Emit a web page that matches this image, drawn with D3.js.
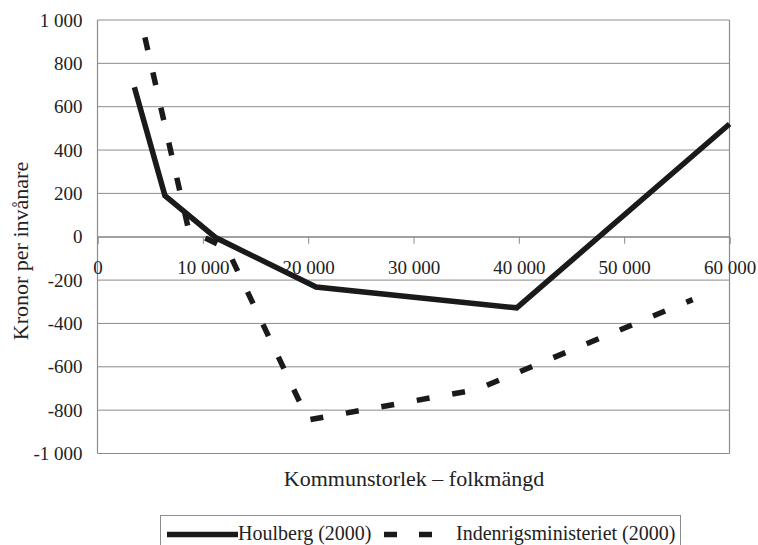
<!DOCTYPE html>
<html>
<head>
<meta charset="utf-8">
<script src="https://cdn.jsdelivr.net/npm/d3@7"></script>
<style>
  html, body { margin: 0; padding: 0; background: #fff; }
  svg { display: block; }
  text { font-family: "Liberation Serif", "Times New Roman", serif; fill: #222; }
</style>
</head>
<body>
<svg id="chart" width="758" height="545"></svg>
<script>
// Kommunstorlek (folkmängd) and kronor per invånare for each source
const houlbergX = [3500, 6400, 11250, 20750, 39800, 60000];
const houlbergY = [690, 190, -5, -232, -328, 520];
const inrikesX = [4500, 8650, 12300, 20000, 36000, 56500];
const inrikesY = [920, 32, -55, -845, -705, -290];

const seriesNames = ["Houlberg (2000)", "Indenrigsministeriet (2000)"];
const xTickValues = [0, 10000, 20000, 30000, 40000, 50000, 60000];
const yTickValues = [-1000, -800, -600, -400, -200, 0, 200, 400, 600, 800, 1000];
const xTitle = "Kommunstorlek – folkmängd";
const yTitle = "Kronor per invånare";

const svg = d3.select("#chart");
const plot = { left: 97.5, right: 729.5, top: 20, bottom: 453.5 };

const x = d3.scaleLinear().domain([0, 60000]).range([plot.left, plot.right]);
const y = d3.scaleLinear().domain([-1000, 1000]).range([plot.bottom, plot.top]);

const sv = d3.formatLocale({ decimal: ",", thousands: "\u00a0", grouping: [3], currency: ["", ""], minus: "-" });
const fmt = sv.format(",d");

const gridColor = "#8c8c8c";

// horizontal gridlines
svg.append("g")
  .selectAll("line")
  .data(yTickValues)
  .join("line")
  .attr("x1", plot.left).attr("x2", plot.right)
  .attr("y1", d => y(d)).attr("y2", d => y(d))
  .attr("stroke", gridColor).attr("stroke-width", 1);

// left axis line and right frame edge
svg.append("line")
  .attr("x1", plot.left).attr("x2", plot.left)
  .attr("y1", plot.top).attr("y2", plot.bottom)
  .attr("stroke", gridColor).attr("stroke-width", 1.2);
svg.append("line")
  .attr("x1", plot.right).attr("x2", plot.right)
  .attr("y1", plot.top).attr("y2", plot.bottom)
  .attr("stroke", gridColor).attr("stroke-width", 1.2);

// y axis labels
const yAxis = d3.axisLeft(y).tickValues(yTickValues).tickFormat(fmt).tickSize(0).tickPadding(15);
const gy = svg.append("g").attr("transform", `translate(${plot.left},0)`).call(yAxis);
gy.select(".domain").remove();
gy.selectAll("text")
  .style("font-family", '"Liberation Serif", serif')
  .style("font-size", "19px")
  .attr("fill", "#222");

// x axis crossing at zero
const xAxis = d3.axisBottom(x).tickValues(xTickValues).tickFormat(fmt).tickSize(7).tickPadding(17);
const gx = svg.append("g").attr("transform", `translate(0,${y(0)})`).call(xAxis);
gx.select(".domain").attr("stroke", gridColor);
gx.selectAll(".tick line").attr("stroke", gridColor);
gx.selectAll("text")
  .style("font-family", '"Liberation Serif", serif')
  .style("font-size", "19px")
  .attr("fill", "#222")
  .attr("dy", "0.32em")
  .attr("y", 31);

const line = d3.line().x(d => x(d[0])).y(d => y(d[1]));

const inrikes = inrikesX.map((v, i) => [v, inrikesY[i]]);
const houlberg = houlbergX.map((v, i) => [v, houlbergY[i]]);

svg.append("path")
  .datum(inrikes)
  .attr("d", line)
  .attr("fill", "none")
  .attr("stroke", "#1a1a1a")
  .attr("stroke-width", 5.5)
  .attr("stroke-dasharray", "13 23")
  .attr("stroke-linejoin", "miter");

svg.append("path")
  .datum(houlberg)
  .attr("d", line)
  .attr("fill", "none")
  .attr("stroke", "#1a1a1a")
  .attr("stroke-width", 5.5)
  .attr("stroke-linejoin", "miter");

// axis titles
svg.append("text")
  .attr("x", 414).attr("y", 486)
  .attr("text-anchor", "middle")
  .style("font-size", "22px")
  .text(xTitle);

svg.append("text")
  .attr("transform", "translate(28,251) rotate(-90)")
  .attr("text-anchor", "middle")
  .style("font-size", "22px")
  .text(yTitle);

// legend
const lg = svg.append("g");
lg.append("rect")
  .attr("x", 160.5).attr("y", 515.5)
  .attr("width", 520).attr("height", 40)
  .attr("fill", "#fff").attr("stroke", gridColor).attr("stroke-width", 1);
lg.append("line")
  .attr("x1", 167).attr("x2", 238).attr("y1", 534.5).attr("y2", 534.5)
  .attr("stroke", "#1a1a1a").attr("stroke-width", 5.5);
lg.append("text")
  .attr("x", 238).attr("y", 540)
  .style("font-size", "20px")
  .text(seriesNames[0]);
lg.append("line")
  .attr("x1", 384).attr("x2", 454).attr("y1", 534.5).attr("y2", 534.5)
  .attr("stroke", "#1a1a1a").attr("stroke-width", 5.5)
  .attr("stroke-dasharray", "13 22");
lg.append("text")
  .attr("x", 456).attr("y", 540)
  .style("font-size", "20px")
  .text(seriesNames[1]);
</script>
</body>
</html>
